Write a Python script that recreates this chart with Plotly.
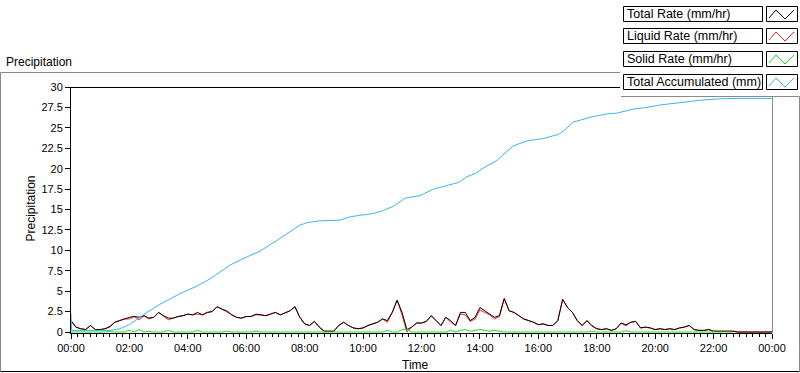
import plotly.graph_objects as go

# ---------------- data ----------------
minutes = list(range(0, 1441, 10))          # 10-minute grid, 00:00 .. 24:00
hours = [m / 60 for m in minutes]

total_rate = [
    1.4, 0.6, 0.4, 0.3, 0.8, 0.3, 0.3, 0.4, 0.7, 1.2, 1.4, 1.6,
    1.8, 1.9, 1.8, 2.0, 1.7, 1.8, 2.4, 2.0, 1.7, 1.7, 1.9, 2.0,
    2.2, 2.1, 2.4, 2.1, 2.4, 2.5, 3.1, 2.8, 2.6, 2.1, 1.8, 1.7,
    1.9, 1.9, 2.2, 2.1, 2.0, 2.2, 2.4, 2.1, 2.4, 2.6, 3.1, 1.8,
    1.0, 0.8, 1.3, 0.6, 0.1, 0.1, 0.1, 0.8, 1.2, 0.8, 0.5, 0.4,
    0.5, 0.8, 1.0, 1.2, 1.6, 1.4, 2.4, 3.9, 2.4, 0.3, 0.6, 1.1,
    1.1, 1.3, 2.0, 1.4, 0.8, 1.8, 1.4, 0.8, 2.4, 2.4, 1.4, 1.8,
    3.0, 2.6, 2.2, 1.8, 2.0, 4.1, 2.6, 2.4, 2.0, 1.6, 1.4, 1.2,
    0.9, 1.0, 0.8, 0.8, 1.4, 4.0, 3.0, 2.4, 1.4, 0.8, 1.4, 0.8,
    0.4, 0.3, 0.4, 0.2, 0.4, 1.1, 0.9, 1.2, 1.3, 0.5, 0.6, 0.5,
    0.3, 0.4, 0.3, 0.4, 0.3, 0.5, 0.6, 0.8, 0.3, 0.2, 0.2, 0.3,
    0.1, 0.1, 0.1, 0.1, 0.1, 0.0, 0.0, 0.0, 0.0, 0.0, 0.0, 0.0,
    0.0,
]

liquid_rate = [
    1.4, 0.6, 0.4, 0.3, 0.8, 0.3, 0.3, 0.4, 0.6, 1.2, 1.4, 1.6,
    1.6, 1.9, 1.5, 2.0, 1.6, 1.8, 2.4, 2.0, 1.5, 1.7, 1.9, 2.0,
    2.2, 2.1, 2.2, 2.1, 2.4, 2.5, 3.1, 2.8, 2.5, 2.1, 1.8, 1.7,
    1.9, 1.9, 2.1, 2.1, 2.0, 2.2, 2.4, 2.1, 2.4, 2.6, 3.1, 1.8,
    1.0, 0.8, 1.3, 0.6, 0.1, 0.1, 0.1, 0.8, 1.2, 0.8, 0.5, 0.4,
    0.5, 0.8, 1.0, 1.2, 1.6, 1.2, 2.4, 3.9, 2.1, 0.0, 0.6, 1.1,
    1.1, 1.3, 2.0, 1.4, 0.8, 1.8, 1.2, 0.8, 2.2, 2.1, 1.3, 1.6,
    2.7, 2.4, 2.1, 1.6, 1.9, 4.1, 2.6, 2.4, 2.0, 1.6, 1.4, 1.2,
    0.9, 1.0, 0.8, 0.8, 1.4, 4.0, 3.0, 2.4, 1.4, 0.8, 1.4, 0.7,
    0.4, 0.3, 0.4, 0.2, 0.4, 1.1, 0.75, 1.2, 1.3, 0.5, 0.6, 0.5,
    0.3, 0.4, 0.3, 0.4, 0.3, 0.5, 0.6, 0.8, 0.3, 0.2, 0.2, 0.3,
    0.1, 0.1, 0.1, 0.1, 0.1, 0.0, 0.0, 0.0, 0.0, 0.0, 0.0, 0.0,
    0.0,
]

solid_rate = [
    0.0, 0.0, 0.0, 0.0, 0.0, 0.0, 0.0, 0.0, 0.1, 0.0, 0.0, 0.0,
    0.2, 0.0, 0.3, 0.0, 0.1, 0.0, 0.0, 0.0, 0.2, 0.0, 0.0, 0.0,
    0.0, 0.0, 0.2, 0.0, 0.0, 0.0, 0.0, 0.0, 0.1, 0.0, 0.0, 0.0,
    0.0, 0.0, 0.1, 0.0, 0.0, 0.0, 0.0, 0.0, 0.0, 0.0, 0.0, 0.0,
    0.0, 0.0, 0.0, 0.0, 0.0, 0.0, 0.0, 0.0, 0.0, 0.0, 0.0, 0.0,
    0.0, 0.0, 0.0, 0.0, 0.0, 0.2, 0.0, 0.0, 0.3, 0.3, 0.0, 0.0,
    0.0, 0.0, 0.0, 0.0, 0.0, 0.0, 0.2, 0.0, 0.2, 0.3, 0.1, 0.2,
    0.3, 0.2, 0.1, 0.2, 0.1, 0.0, 0.0, 0.0, 0.0, 0.0, 0.0, 0.0,
    0.0, 0.0, 0.0, 0.0, 0.0, 0.0, 0.0, 0.0, 0.0, 0.0, 0.0, 0.1,
    0.0, 0.0, 0.0, 0.0, 0.0, 0.0, 0.15, 0.0, 0.0, 0.0, 0.0, 0.0,
    0.0, 0.0, 0.0, 0.0, 0.0, 0.0, 0.0, 0.0, 0.0, 0.0, 0.0, 0.0,
    0.0, 0.0, 0.0, 0.0, 0.0, None, None, None, None, None, None, None,
    None,
]

accum_hours = [
    0.0, 0.02, 1.33, 1.68, 2.0, 2.6, 3.05, 3.73, 4.3, 4.76, 5.0, 5.45,
    5.9, 6.47, 7.04, 7.61, 7.84, 8.1, 8.47, 9.21, 9.55, 9.9, 10.35, 10.7,
    11.04, 11.44, 11.95, 12.41, 12.87, 13.26, 13.55, 13.89, 14.12, 14.58, 14.92, 15.15,
    15.61, 16.18, 16.69, 16.86, 17.2, 17.77, 18.35, 18.69, 19.26, 19.72, 20.17, 21.0,
    21.6, 22.2, 22.7, 24.0,
]
total_accum = [
    2.3, 0.2, 0.2, 0.4, 0.9, 2.4, 3.4, 4.7, 5.6, 6.5, 7.1, 8.2,
    9.0, 9.9, 11.2, 12.6, 13.1, 13.4, 13.6, 13.7, 14.1, 14.3, 14.5, 14.9,
    15.4, 16.4, 16.7, 17.5, 17.9, 18.3, 19.0, 19.5, 20.1, 21.0, 22.1, 22.8,
    23.4, 23.7, 24.2, 24.6, 25.7, 26.3, 26.7, 26.8, 27.3, 27.5, 27.8, 28.2,
    28.4, 28.55, 28.6, 28.6,
]

y_ticks = [0, 2.5, 5, 7.5, 10, 12.5, 15, 17.5, 20, 22.5, 25, 27.5, 30]
y_tick_text = ["0", "2.5", "5", "7.5", "10", "12.5", "15", "17.5", "20", "22.5", "25", "27.5", "30"]
x_ticks = [0, 2, 4, 6, 8, 10, 12, 14, 16, 18, 20, 22, 24]
x_tick_text = ["00:00", "02:00", "04:00", "06:00", "08:00", "10:00", "12:00",
               "14:00", "16:00", "18:00", "20:00", "22:00", "00:00"]

legend_names = ["Total Rate (mm/hr)", "Liquid Rate (mm/hr)", "Solid Rate (mm/hr)", "Total Accumulated (mm)"]

# ---------------- styling ----------------
FONT = "Liberation Sans"
C_TOTAL, C_LIQ, C_SOLID, C_ACC = "#000000", "#ff2020", "#18e018", "#3ab4f2"
W, H = 800, 373
L, R, T, B = 71, 772, 87, 333   # plot area in pixels
Y_MIN = -0.12                   # lifts the zero line one pixel above the axis


def px(x):
    return (x - L) / (R - L)


def py(y):
    return (B - y) / (B - T)


fig = go.Figure()
fig.add_trace(go.Scatter(x=hours, y=liquid_rate, mode="lines", line=dict(color=C_LIQ, width=1), showlegend=False))
fig.add_trace(go.Scatter(x=hours, y=total_rate, mode="lines", line=dict(color=C_TOTAL, width=1), showlegend=False))
fig.add_trace(go.Scatter(x=hours, y=solid_rate, mode="lines", line=dict(color=C_SOLID, width=1), showlegend=False))
fig.add_trace(go.Scatter(x=accum_hours, y=total_accum, mode="lines", line=dict(color=C_ACC, width=1), showlegend=False))

shapes = []
line_black = dict(color="black", width=1)
line_gray = dict(color="#8a8a8a", width=1)
# outer frame
shapes.append(dict(type="line", xref="paper", yref="paper", x0=px(0.5), x1=px(620), y0=py(72.5), y1=py(72.5), line=line_gray))
shapes.append(dict(type="line", xref="paper", yref="paper", x0=px(0.5), x1=px(0.5), y0=py(72.5), y1=py(371.5), line=line_gray))
shapes.append(dict(type="line", xref="paper", yref="paper", x0=px(0.5), x1=px(799.5), y0=py(371.5), y1=py(371.5), line=line_black))
shapes.append(dict(type="line", xref="paper", yref="paper", x0=px(799.5), x1=px(799.5), y0=py(96.5), y1=py(371.5), line=line_gray))
# plot frame top / right
shapes.append(dict(type="line", xref="paper", yref="paper", x0=px(71), x1=px(620), y0=py(87.5), y1=py(87.5), line=line_black))
shapes.append(dict(type="line", xref="paper", yref="paper", x0=px(772.5), x1=px(772.5), y0=py(96.5), y1=py(333), line=line_gray))
# legend panel bottom
shapes.append(dict(type="line", xref="paper", yref="paper", x0=px(621), x1=px(799.5), y0=py(96.5), y1=py(96.5), line=line_gray))

annotations = []
legend_tops = [6, 28, 51, 74]
colors = [C_TOTAL, C_LIQ, C_SOLID, C_ACC]
for name, top, col in zip(legend_names, legend_tops, colors):
    bot = top + 15
    shapes.append(dict(type="rect", xref="paper", yref="paper", x0=px(623.5), x1=px(762.5), y0=py(bot + 0.5), y1=py(top + 0.5),
                       line=line_black, fillcolor="white"))
    shapes.append(dict(type="rect", xref="paper", yref="paper", x0=px(766.5), x1=px(797.5), y0=py(bot + 0.5), y1=py(top + 0.5),
                       line=line_black, fillcolor="white"))
    pts = [(769, bot - 3), (776, top + 4), (785, bot - 2), (794, top + 4)]
    path = "M " + " L ".join(f"{px(a)},{py(b)}" for a, b in pts)
    shapes.append(dict(type="path", xref="paper", yref="paper", path=path, line=dict(color=col, width=1)))
    annotations.append(dict(xref="paper", yref="paper", x=px(625), y=py(top + 8), text=name, showarrow=False,
                            xanchor="left", yanchor="middle", font=dict(family=FONT, size=12.5, color="black")))

annotations.append(dict(xref="paper", yref="paper", x=px(4), y=py(62), text="Precipitation", showarrow=False,
                        xanchor="left", yanchor="middle", font=dict(family=FONT, size=12, color="black")))
annotations.append(dict(xref="paper", yref="paper", x=px(30.5), y=py(209), text="Precipitation", showarrow=False,
                        textangle=-90, xanchor="center", yanchor="middle", font=dict(family=FONT, size=12, color="black")))
annotations.append(dict(xref="paper", yref="paper", x=px(415.5), y=py(365), text="Time", showarrow=False,
                        xanchor="center", yanchor="middle", font=dict(family=FONT, size=12, color="black")))

fig.update_layout(
    width=W, height=H,
    margin=dict(l=L, r=W - R, t=T, b=H - B, pad=0),
    paper_bgcolor="white", plot_bgcolor="white",
    font=dict(family=FONT, size=11, color="black"),
    shapes=shapes, annotations=annotations,
    showlegend=False,
    xaxis=dict(range=[0, 24], tickvals=x_ticks, ticktext=x_tick_text, showgrid=False, zeroline=False,
               showline=True, linecolor="black", linewidth=1, ticks="outside", ticklen=5, tickcolor="black",
               tickfont=dict(family=FONT, size=11, color="black"),
               minor=dict(dtick=2 / 9, tick0=0, ticks="outside", ticklen=3, tickcolor="black", showgrid=False)),
    yaxis=dict(range=[Y_MIN, 30], tickvals=y_ticks, ticktext=y_tick_text, showgrid=False, zeroline=False,
               showline=True, linecolor="black", linewidth=1, ticks="outside", ticklen=5, tickcolor="black",
               tickfont=dict(family=FONT, size=11, color="black")),
)

fig.write_html("out.html", config={"displayModeBar": False},
               post_script="document.body.style.margin='0';document.body.style.overflow='hidden';")
